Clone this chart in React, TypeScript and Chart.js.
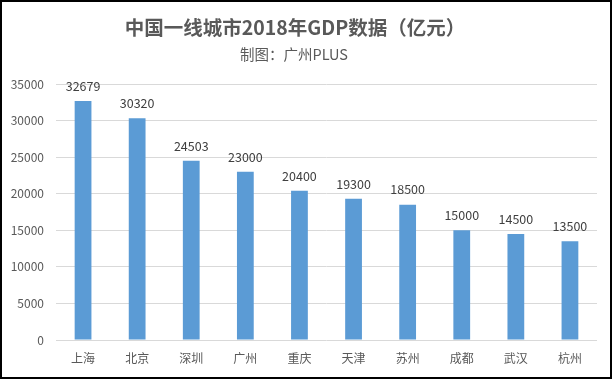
import React, { useEffect, useRef } from "react";
import { Chart, registerables } from "chart.js";

Chart.register(...registerables);

const titleText = "中国一线城市2018年GDP数据（亿元）";
const subtitleText = "制图：广州PLUS";
const cities = ["上海", "北京", "深圳", "广州", "重庆", "天津", "苏州", "成都", "武汉", "杭州"];
const gdpValues = [32679, 30320, 24503, 23000, 20400, 19300, 18500, 15000, 14500, 13500];
const yMin = 0;
const yMax = 35000;
const yStep = 5000;

const FONT = "'Noto Sans CJK SC', 'Microsoft YaHei', sans-serif";

const labelsPlugin = {
  id: "customLabels",
  afterDatasetsDraw(chart: any) {
    const ctx = chart.ctx;
    const meta = chart.getDatasetMeta(0);
    ctx.save();
    ctx.font = `12.5px ${FONT}`;
    ctx.fillStyle = "#404040";
    ctx.textAlign = "center";
    ctx.textBaseline = "middle";
    meta.data.forEach((bar: any, i: number) => {
      ctx.fillText(String(gdpValues[i]), bar.x, bar.y - 15);
    });
    ctx.restore();
  },
  afterDraw(chart: any) {
    const ctx = chart.ctx;
    ctx.save();
    ctx.fillStyle = "#595959";
    ctx.textAlign = "center";
    ctx.textBaseline = "middle";
    ctx.font = `bold 19.5px ${FONT}`;
    ctx.fillText(titleText, 293, 26);
    ctx.font = `14.5px ${FONT}`;
    ctx.fillText(subtitleText, 292, 52);
    ctx.restore();
  },
};

export default function App() {
  const ref = useRef<HTMLCanvasElement>(null);
  useEffect(() => {
    if (!ref.current) return;
    const chart = new Chart(ref.current, {
      type: "bar",
      data: {
        labels: cities,
        datasets: [
          {
            data: gdpValues,
            backgroundColor: "#5B9BD5",
            barPercentage: 0.62,
            categoryPercentage: 0.5,
          },
        ],
      },
      options: {
        animation: false,
        responsive: false,
        layout: { padding: { top: 82, left: 0, right: 13, bottom: 0 } },
        plugins: {
          legend: { display: false },
          title: { display: false },
          tooltip: { enabled: false },
        },
        scales: {
          x: {
            grid: { display: false, drawTicks: false },
            border: { display: false },
            ticks: {
              color: "#595959",
              font: { family: FONT, size: 12 },
              padding: 11,
              maxRotation: 0,
            },
            afterFit(scale: any) {
              scale.height = 37;
            },
          },
          y: {
            min: yMin,
            max: yMax,
            grid: { color: "#D9D9D9", drawTicks: false },
            border: { display: false },
            ticks: {
              stepSize: yStep,
              color: "#595959",
              font: { family: FONT, size: 12 },
              padding: 12,
              callback: (v: any) => String(v),
            },
            afterFit(scale: any) {
              scale.width = 54;
            },
          },
        },
      },
      plugins: [labelsPlugin],
    });
    return () => chart.destroy();
  }, []);
  return (
    <div
      style={{
        position: "absolute",
        left: 0,
        top: 0,
        width: 612,
        height: 379,
        boxSizing: "border-box",
        border: "2px solid #000",
        background: "#fff",
      }}
    >
      <canvas ref={ref} width={608} height={375} style={{ display: "block" }} />
    </div>
  );
}
